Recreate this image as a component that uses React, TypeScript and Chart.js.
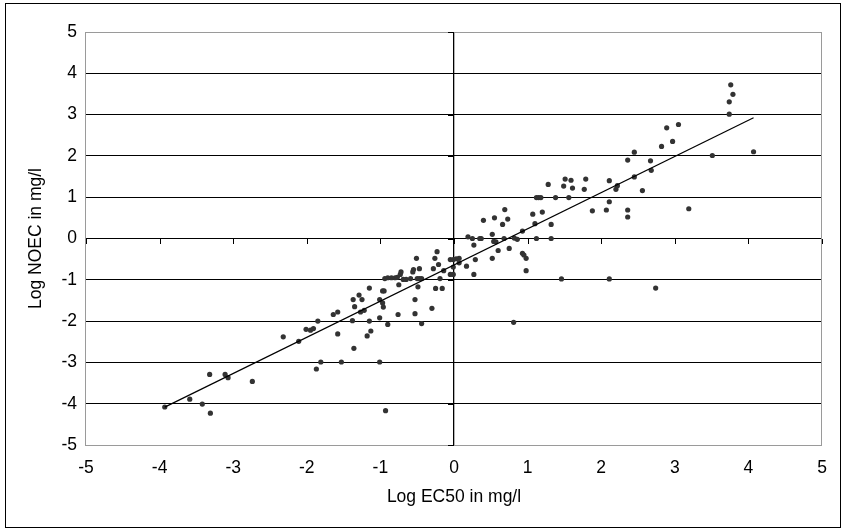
import React, { useEffect, useRef } from "react";
import { Chart, registerables } from "chart.js";

Chart.register(...registerables);

// Log EC50 (mg/l)
const logEC50 = [
  -3.93, -3.59, -3.42, -3.31, -3.32, -3.11, -3.07, -2.74, -2.32, -2.11,
  -2.01, -1.95, -1.91, -1.85, -1.87, -1.81, -1.64, -1.58, -1.58, -1.53,
  -1.37, -1.35, -1.29, -1.25, -1.27, -1.22, -1.38, -1.36, -1.18, -1.13,
  -1.15, -1.15, -1.01, -0.97, -0.95, -0.97, -0.96, -1.01, -0.9, -1.01,
  -0.93, -0.76, -0.94, -0.9, -0.85, -0.8, -0.77, -0.73, -0.72, -0.75,
  -0.69, -0.65, -0.59, -0.56, -0.55, -0.51, -0.47, -0.5, -0.47, -0.44,
  -0.49, -0.53, -0.53, -0.44, -0.3, -0.26, -0.23, -0.21, -0.28, -0.25,
  -0.16, -0.19, -0.14, -0.05, -0.01, -0.05, -0.01, -0.01, 0.07, 0.07,
  0.17, 0.19, 0.25, 0.27, 0.29, 0.27, 0.35, 0.37, 0.4, 0.52,
  0.52, 0.55, 0.54, 0.57, 0.6, 0.66, 0.69, 0.68, 0.73, 0.75,
  0.82, 0.86, 0.93, 0.93, 0.95, 0.98, 0.98, 1.07, 1.1, 1.12,
  1.12, 1.15, 1.18, 1.2, 1.28, 1.32, 1.32, 1.38, 0.81, 1.46,
  2.11, 2.74, 1.49, 1.51, 1.59, 1.61, 1.56, 1.79, 1.77, 1.88,
  2.07, 2.11, 2.11, 2.2, 2.22, 2.36, 2.36, 2.36, 2.45, 2.45,
  2.56, 2.67, 2.68, 2.82, 2.89, 2.97, 3.05, 3.19, 3.51, 3.74,
  3.74, 3.79, 3.76, 4.07, 0.03,
];

// Log NOEC (mg/l)
const logNOEC = [
  -4.08, -3.89, -4.01, -4.23, -3.29, -3.29, -3.37, -3.46, -2.38, -2.49,
  -2.2, -2.22, -2.18, -2.0, -3.16, -2.99, -1.84, -1.78, -2.31, -2.99,
  -1.48, -1.65, -1.37, -1.48, -1.78, -1.74, -1.99, -2.66, -2.36, -2.24,
  -2.0, -1.2, -1.48, -1.27, -1.27, -1.56, -1.66, -1.92, -2.08, -2.99,
  -4.17, -1.84, -0.97, -0.95, -0.95, -0.95, -0.94, -0.87, -0.81, -1.12,
  -0.99, -0.99, -0.97, -0.81, -0.75, -0.48, -0.73, -0.97, -0.97, -0.97,
  -1.17, -1.48, -1.82, -2.06, -1.69, -0.48, -0.32, -0.63, -0.73, -1.21,
  -1.21, -0.97, -0.78, -0.51, -0.51, -0.87, -0.87, -0.69, -0.48, -0.59,
  -0.67, 0.04, 0.0, -0.16, -0.51, -0.87, 0.0, 0.0, 0.44, 0.1,
  -0.48, 0.5, -0.07, -0.08, -0.29, 0.34, 0.7, 0.0, 0.47, -0.24,
  0.01, -0.02, 0.18, -0.36, -0.4, -0.48, -0.78, 0.59, 0.36, 0.0,
  0.99, 0.99, 0.99, 0.64, 1.31, 0.34, 0.0, 0.99, -2.03, -0.98,
  -0.98, -1.2, 1.27, 1.44, 1.41, 1.22, 0.99, 1.44, 1.19, 0.67,
  0.69, 0.89, 1.4, 1.19, 1.28, 0.69, 0.52, 1.9, 2.09, 1.49,
  1.16, 1.88, 1.65, 2.23, 2.68, 2.35, 2.76, 0.72, 2.01, 3.01,
  3.31, 3.49, 3.72, 2.1, -0.49,
];

// Linear trendline: NOEC = slope * EC50 + intercept
const TREND_SLOPE = 0.876;
const TREND_INTERCEPT = -0.64;

const AXIS_MIN = -5;
const AXIS_MAX = 5;
const AXIS_STEP = 1;

const X_TITLE = "Log EC50 in mg/l";
const Y_TITLE = "Log NOEC in mg/l";

const FONT = "'Liberation Sans', Arial, sans-serif";
const FONT_SIZE = 17.5;

const framePlugin = {
  id: "frame",
  beforeDatasetsDraw(chart: any) {
    const { ctx, chartArea: a, scales } = chart;
    const xs = scales.x;
    const ys = scales.y;
    ctx.save();
    ctx.lineWidth = 1;
    // plot area border
    ctx.strokeStyle = "#9a9a9a";
    ctx.strokeRect(Math.round(a.left) - 0.5, Math.round(a.top) + 0.5, Math.round(a.right - a.left), Math.round(a.bottom - a.top));
    // tick marks on the axes that cross at 0
    const x0 = Math.round(xs.getPixelForValue(0));
    const y0 = Math.round(ys.getPixelForValue(0));
    ctx.strokeStyle = "#000";
    ctx.beginPath();
    xs.ticks.forEach((t: any) => {
      const px = Math.round(xs.getPixelForValue(t.value)) + 0.5;
      ctx.moveTo(px, y0);
      ctx.lineTo(px, y0 + 5);
    });
    ys.ticks.forEach((t: any) => {
      const py = Math.round(ys.getPixelForValue(t.value)) + 0.5;
      ctx.moveTo(x0 - 6, py);
      ctx.lineTo(x0, py);
    });
    ctx.stroke();
    ctx.restore();
  },
  afterDraw(chart: any) {
    const { ctx } = chart;
    ctx.save();
    ctx.strokeStyle = "#000";
    ctx.lineWidth = 1;
    ctx.strokeRect(5.5, 3.5, 835, 524);
    ctx.restore();
  },
};

export default function App() {
  const ref = useRef<HTMLCanvasElement | null>(null);

  useEffect(() => {
    if (!ref.current) return;
    const points = logEC50.map((x, i) => ({ x, y: logNOEC[i] }));
    const minX = Math.min(...logEC50);
    const maxX = Math.max(...logEC50);
    const trend = [
      { x: minX, y: TREND_SLOPE * minX + TREND_INTERCEPT },
      { x: maxX, y: TREND_SLOPE * maxX + TREND_INTERCEPT },
    ];

    const chart = new Chart(ref.current, {
      type: "scatter",
      data: {
        datasets: [
          {
            type: "line",
            data: trend,
            borderColor: "#000",
            borderWidth: 1.2,
            pointRadius: 0,
            showLine: true,
            fill: false,
            order: 0,
          } as any,
          {
            data: points,
            backgroundColor: "#333333",
            borderWidth: 0,
            pointRadius: 2.6,
            order: 1,
          },
        ],
      },
      options: {
        animation: false,
        responsive: false,
        layout: { padding: { left: 0, top: 32, right: 22, bottom: 0 } },
        plugins: { legend: { display: false }, tooltip: { enabled: false } },
        scales: {
          x: {
            type: "linear",
            min: AXIS_MIN,
            max: AXIS_MAX,
            afterFit: (s: any) => {
              s.height = 86;
            },
            ticks: {
              stepSize: AXIS_STEP,
              color: "#000",
              padding: 13,
              font: { family: FONT, size: FONT_SIZE },
            },
            grid: {
              drawTicks: false,
              lineWidth: 1.3,
              color: (c: any) => (c.tick && c.tick.value === 0 ? "#000" : "rgba(0,0,0,0)"),
            },
            border: { display: false },
            title: {
              display: true,
              text: X_TITLE,
              color: "#000",
              font: { family: FONT, size: FONT_SIZE },
              padding: { top: 0, bottom: 23 },
            },
          },
          y: {
            type: "linear",
            min: AXIS_MIN,
            max: AXIS_MAX,
            afterFit: (s: any) => {
              s.width = 86;
            },
            ticks: {
              stepSize: AXIS_STEP,
              color: "#000",
              padding: 9,
              font: { family: FONT, size: FONT_SIZE },
            },
            grid: {
              drawTicks: false,
              color: "#000",
              lineWidth: 1,
            },
            border: { display: false },
            title: {
              display: true,
              text: Y_TITLE,
              color: "#000",
              font: { family: FONT, size: FONT_SIZE },
              padding: { top: 26, bottom: 0 },
            },
          },
        },
      },
      plugins: [framePlugin],
    });
    return () => chart.destroy();
  }, []);

  return (
    <div style={{ position: "fixed", left: 0, top: 0, width: 844, height: 531, background: "#fff" }}>
      <canvas ref={ref} width={844} height={531} style={{ width: 844, height: 531, display: "block" }} />
    </div>
  );
}
